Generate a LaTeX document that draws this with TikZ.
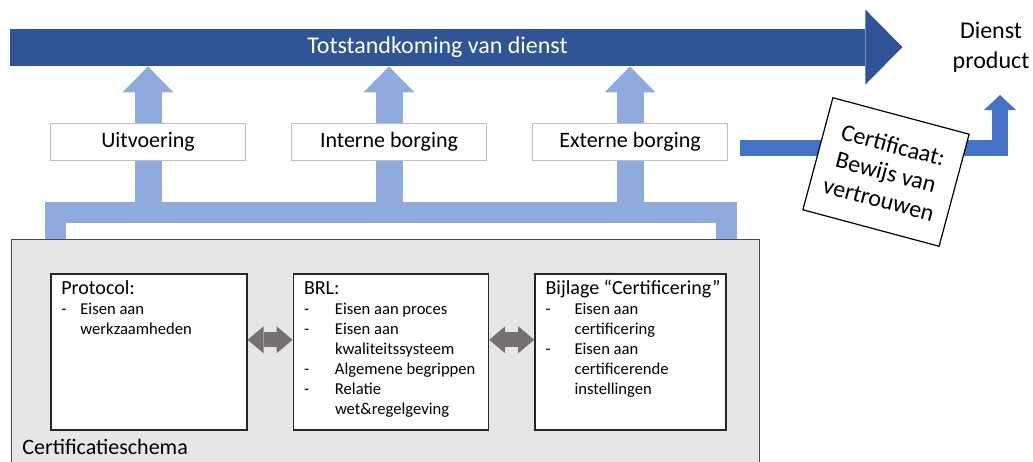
\documentclass[tikz,border=0pt]{standalone}
\usepackage{fontspec}
\setmainfont{Carlito}
\usetikzlibrary{positioning,arrows.meta,backgrounds}
\definecolor{flowBlue}{RGB}{47,85,151}
\definecolor{forkBlue}{RGB}{143,170,220}
\definecolor{certBlue}{RGB}{68,114,196}
\definecolor{schemaFill}{RGB}{231,230,230}
\definecolor{linkGray}{RGB}{118,113,113}
\definecolor{tagLine}{RGB}{191,191,191}
\tikzset{
  labelbox/.style={rectangle, draw=tagLine, line width=0.5pt, fill=white,
                   minimum width=97.5pt, minimum height=18.5pt, inner sep=0pt, font=\fontsize{11}{13}\selectfont},
  partbox/.style={rectangle, draw=black!85, line width=0.8pt, fill=white, minimum height=78pt, inner sep=0pt},
  parttext/.style={inner sep=0pt, anchor=north west, font=\fontsize{8.3}{10}\selectfont},
  riser/.style={draw=forkBlue, line width=13.5pt, -{Triangle[length=13pt,width=25.5pt,line width=0pt]}},
  forkbar/.style={draw=forkBlue, line width=10.5pt, line join=miter},
  linkarrow/.style={draw=linkGray, line width=7.5pt,
                    {Triangle[length=8pt,width=13.5pt,line width=0pt]}-{Triangle[length=8pt,width=13.5pt,line width=0pt]}},
  certarrow/.style={draw=certBlue, line width=8pt, line join=miter, -{Triangle[length=7.5pt,width=16pt,line width=0pt]}},
}

\begin{document}
\begin{tikzpicture}[x=0.5pt, y=-0.5pt]
  \useasboundingbox (0,0) rectangle (1033,461);

  % schema container
  \node[draw=black!70, fill=schemaFill, line width=0.6pt, minimum width=374.25pt, minimum height=115.5pt,
        anchor=north west, inner sep=0pt] (schema) at (10.5,239) {};
  \node[anchor=west, inner sep=0pt, font=\fontsize{11}{13}\selectfont] (schemalbl) at (22,447) {Certificatieschema};

  % fork out of the schema
  \coordinate (forkL) at (55.5,212);
  \coordinate (forkR) at (726,212);
  \draw[forkbar] (forkL |- schema.north) -- (forkL) -- (forkR) -- (forkR |- schema.north);

  % main flow
  \node[fill=flowBlue, text=white, minimum width=427.5pt, minimum height=18.5pt, inner sep=0pt,
        font=\fontsize{12}{14}\selectfont] (flow) at (437.5,47.5) {Totstandkoming van dienst};
  \fill[flowBlue] (flow.north east) -- ++(0,-19) -- ++(37,37.5) -- ++(-37,37.5) -- (flow.south east) -- cycle;

  \node[labelbox] (uitv) at (148,142) {Uitvoering};
  \node[labelbox, right=22.5pt of uitv] (intern) {Interne borging};
  \node[labelbox, right=22.5pt of intern] (extern) {Externe borging};

  \begin{scope}[on background layer]
    \foreach \t in {uitv,intern,extern}
      \draw[riser] (\t |- forkL) -- (\t |- flow.south);
  \end{scope}

  % parts of the schema
  \node[partbox, minimum width=98pt, anchor=north west] (protocol) at (50,273) {};
  \node[partbox, minimum width=97.5pt, right=22.5pt of protocol] (brl) {};
  \node[partbox, minimum width=95.5pt, right=22.5pt of brl] (bijlage) {};

  \node[parttext, below right=3.5pt and 5.5pt of protocol.north west] (protocoltxt) {%
    \begin{tabular}{@{}p{9.5pt}@{}l@{}}
      \multicolumn{2}{@{}l@{}}{\fontsize{10}{12}\selectfont Protocol:}\\
      - & Eisen aan\\
        & werkzaamheden
    \end{tabular}};
  \node[parttext, below right=3.5pt and 5.5pt of brl.north west] (brltxt) {%
    \begin{tabular}{@{}p{15.5pt}@{}l@{}}
      \multicolumn{2}{@{}l@{}}{\fontsize{10}{12}\selectfont BRL:}\\
      - & Eisen aan proces\\
      - & Eisen aan\\
        & kwaliteitssysteem\\
      - & Algemene begrippen\\
      - & Relatie\\
        & wet\&regelgeving
    \end{tabular}};
  \node[parttext, below right=3.5pt and 5.5pt of bijlage.north west] (bijlagetxt) {%
    \begin{tabular}{@{}p{14.5pt}@{}l@{}}
      \multicolumn{2}{@{}l@{}}{\fontsize{10}{12}\selectfont Bijlage “Certificering”}\\
      - & Eisen aan\\
        & certificering\\
      - & Eisen aan\\
        & certificerende\\
        & instellingen
    \end{tabular}};

  \draw[linkarrow] ([yshift=6pt]protocol.east) -- ([yshift=6pt]brl.west);
  \draw[linkarrow] ([yshift=6pt]brl.east) -- ([yshift=6pt]bijlage.west);

  % certificate to product
  \coordinate (certtip) at (1000,95);
  \draw[certarrow] ([xshift=6pt,yshift=-3pt]extern.east) -| (certtip);
  \node[draw, fill=white, line width=0.6pt, rotate=-15, minimum width=70.5pt, minimum height=58pt,
        align=center, inner sep=1pt, font=\fontsize{12}{14}\selectfont] (cert) at (886,172)
        {Certificaat:\\Bewijs van\\vertrouwen};
  \node[align=center, inner sep=0pt, font=\fontsize{12}{15}\selectfont] (dienst) at (991,47) {Dienst\\product};
\end{tikzpicture}
\end{document}
